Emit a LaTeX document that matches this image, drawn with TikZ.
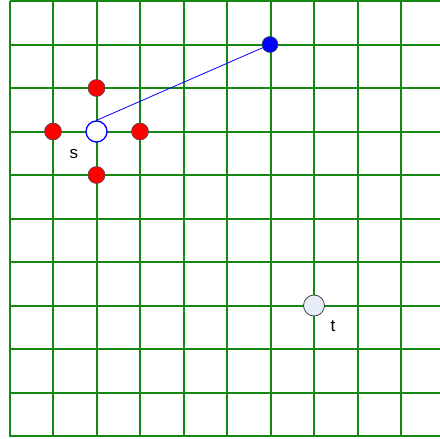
\documentclass[tikz,border=0pt]{standalone}
\usepackage{fontspec}
\setmainfont{Liberation Sans}
\definecolor{gridgreen}{RGB}{20,135,20}
\definecolor{tfill}{RGB}{230,236,248}
\tikzset{
  gridline/.style={draw=gridgreen, line width=2pt},
  reddot/.style={circle, fill=red, draw=black!70, line width=0.6pt, minimum size=17pt, inner sep=0pt},
  bluedot/.style={circle, fill=blue, draw=black!70, line width=0.6pt, minimum size=16pt, inner sep=0pt},
  snode/.style={circle, fill=white, draw=blue, line width=1.3pt, minimum size=21pt, inner sep=0pt},
  tnode/.style={circle, fill=tfill, draw=black!80, line width=0.7pt, minimum size=21pt, inner sep=0pt},
  lbl/.style={font=\fontsize{17pt}{19pt}\selectfont, inner sep=0pt}
}
\begin{document}
\begin{tikzpicture}[x=1pt,y=-1pt]
\useasboundingbox (0,0) rectangle (440,439);
\foreach \k in {0,...,9} {
  \draw[gridline] ({9.5+43.5*\k},1) -- ({9.5+43.5*\k},437);
}
\foreach \k in {0,...,10} {
  \draw[gridline] (9.5,{1+43.5*\k}) -- (440,{1+43.5*\k});
}
\node[snode] (s) at (96.5,131.5) {};
\node[bluedot] (b) at (270,44.5) {};
\draw[blue, line width=0.8pt] (s.north) -- (b);
\node[reddot] (r1) at (96.5,88) {};
\node[reddot] (r2) at (53,131.5) {};
\node[reddot] (r3) at (140,131.5) {};
\node[reddot] (r4) at (96.5,175) {};
\node[tnode] (t) at (314,305.5) {};
\node[lbl] (sl) at (74,154) {s};
\node[lbl] (tl) at (333,326) {t};
\end{tikzpicture}
\end{document}
